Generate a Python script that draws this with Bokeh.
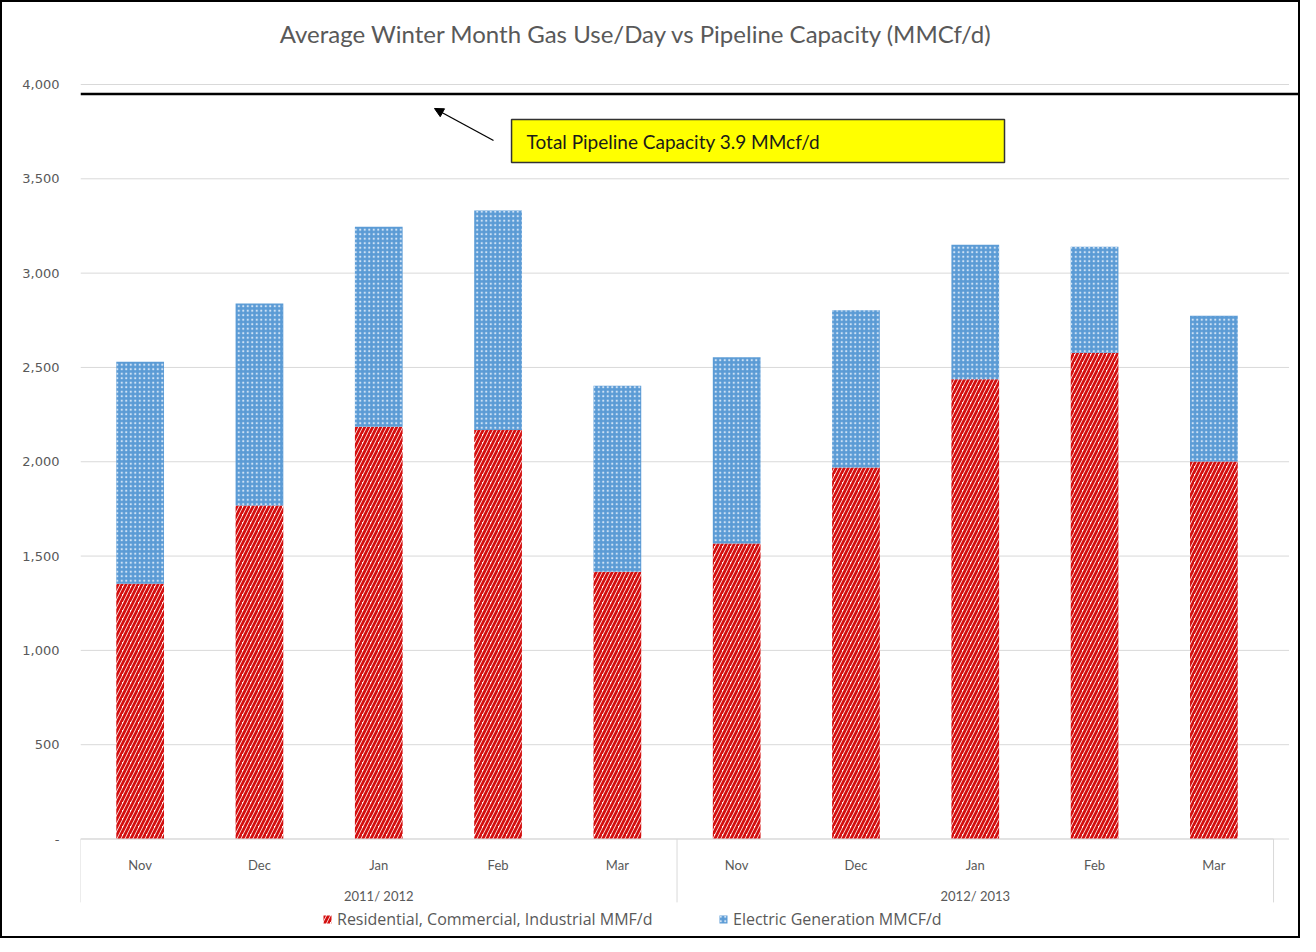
from bokeh.plotting import figure
from bokeh.models import (Range1d, ColumnDataSource, FixedTicker, NumeralTickFormatter,
                          Span, BoxAnnotation, Label, Arrow, NormalHead, Legend, LegendItem)
from bokeh.core.properties import value
from bokeh.embed import file_html
from bokeh.resources import INLINE

# ---------------- data ----------------
seasons = ["2011/ 2012", "2012/ 2013"]
months = ["Nov", "Dec", "Jan", "Feb", "Mar"]
residential = [1353, 1768, 2186, 2168, 1417, 1567, 1969, 2437, 2578, 2001]
electric = [1177, 1071, 1060, 1164, 986, 987, 834, 713, 562, 773]
series_names = ["Residential, Commercial, Industrial MMF/d", "Electric Generation MMCF/d"]
capacity_line = 3950
capacity_note = "Total Pipeline  Capacity 3.9 MMcf/d"
title_text = "Average Winter Month Gas Use/Day vs Pipeline Capacity  (MMCf/d)"
y_ticks = [0, 500, 1000, 1500, 2000, 2500, 3000, 3500, 4000]

# ---------------- derived ----------------
n_m = len(months)
n_cat = len(seasons) * n_m
x_pos = [i + 0.5 for i in range(n_cat)]
month_labels = [m for s in seasons for m in months]
season_pos = [j * n_m + n_m / 2 for j in range(len(seasons))]
separators = [j * n_m for j in range(len(seasons) + 1)]
totals = [r + e for r, e in zip(residential, electric)]

GREY = "#595959"
GRID = "#d9d9d9"

p = figure(width=1300, height=938, x_range=Range1d(0, 10.226),
           y_range=Range1d(-485, 4434.7),
           output_backend="svg", toolbar_location=None, x_axis_type=None,
           min_border_left=78, min_border_right=2, min_border_top=0, min_border_bottom=10)
p.styles = {"border": "2px solid black"}
p.outline_line_color = None
p.xgrid.visible = False
p.ygrid.visible = False

# y axis
p.yaxis.ticker = FixedTicker(ticks=y_ticks)
p.yaxis.formatter = NumeralTickFormatter(format="0,0")
p.yaxis.major_label_overrides = {0: "-"}
p.yaxis.axis_line_color = None
p.yaxis.major_tick_line_color = None
p.yaxis.minor_tick_line_color = None
p.yaxis.major_label_standoff = 15
p.yaxis.major_label_text_font = "DejaVu Sans"
p.yaxis.major_label_text_font_size = "13px"
p.yaxis.major_label_text_color = GREY

# title (drawn inside the canvas, above the plot area)
p.add_layout(Label(x=4.686, y=4270, text=title_text, text_align="center",
                   text_baseline="middle", text_font="Lato", text_font_size="24px",
                   text_color=GREY))

# horizontal gridlines (plot area ends a little before the right edge)
grid_end = 10.13
p.segment(x0=[0] * len(y_ticks), x1=[grid_end] * len(y_ticks), y0=y_ticks, y1=y_ticks,
          line_color=GRID, line_width=1)

src = ColumnDataSource(dict(x=x_pos, res=residential, elec=electric, total=totals,
                            month=month_labels))

r1 = p.vbar(x="x", bottom=0, top="res", width=0.4, source=src,
            fill_color="white", line_color=None,
            hatch_pattern="right_diagonal_line", hatch_color="#d40f0f",
            hatch_weight=2.8, hatch_scale=8)
r2 = p.vbar(x="x", bottom="res", top="total", width=0.4, source=src,
            fill_color="#5b9bd5", line_color=None,
            hatch_pattern="dot", hatch_color="#cfe2f5",
            hatch_weight=0.8, hatch_scale=4.5)

# category axis box
p.segment(x0=separators, y0=[0] * len(separators), x1=separators,
          y1=[-336] * len(separators), line_color=GRID, line_width=1)
p.segment(x0=[0], y0=[0], x1=[separators[-1]], y1=[0], line_color=GRID, line_width=1)
p.text(x="x", y=-140, text="month", source=src, text_align="center",
       text_baseline="middle", text_font=value("Lato"), text_font_size="13px",
       text_color=GREY)
p.text(x=season_pos, y=[-301] * len(seasons), text=seasons, text_align="center",
       text_baseline="middle", text_font=value("Lato"), text_font_size="13px",
       text_color=GREY)

# capacity line and note
p.add_layout(Span(location=capacity_line, dimension="width", line_color="black",
                  line_width=2.5))
p.add_layout(BoxAnnotation(left=3.613, right=7.745, bottom=3586, top=3814,
                           fill_color="#ffff00", fill_alpha=1.0,
                           line_color="#333333", line_width=1.5, line_alpha=1.0))
p.add_layout(Label(x=3.739, y=3700, text=capacity_note, text_baseline="middle",
                   text_font="Lato", text_font_size="19px", text_color="#1a1a1a"))
p.add_layout(Arrow(x_start=3.462, y_start=3703, x_end=2.967, y_end=3873,
                   line_color="black", line_width=1.3,
                   end=NormalHead(size=9, fill_color="black", line_color="black")))

legend_style = dict(orientation="horizontal",
                    label_text_font="Open Sans", label_text_font_size="16px",
                    label_text_color=GREY, glyph_width=10, glyph_height=10,
                    label_standoff=5, padding=0,
                    background_fill_alpha=0, border_line_color=None)
p.add_layout(Legend(items=[LegendItem(label=series_names[0], renderers=[r1])],
                    location=(242, 0), **legend_style))
p.add_layout(Legend(items=[LegendItem(label=series_names[1], renderers=[r2])],
                    location=(638, 0), **legend_style))

open("out.html", "w").write(file_html(p, INLINE))
